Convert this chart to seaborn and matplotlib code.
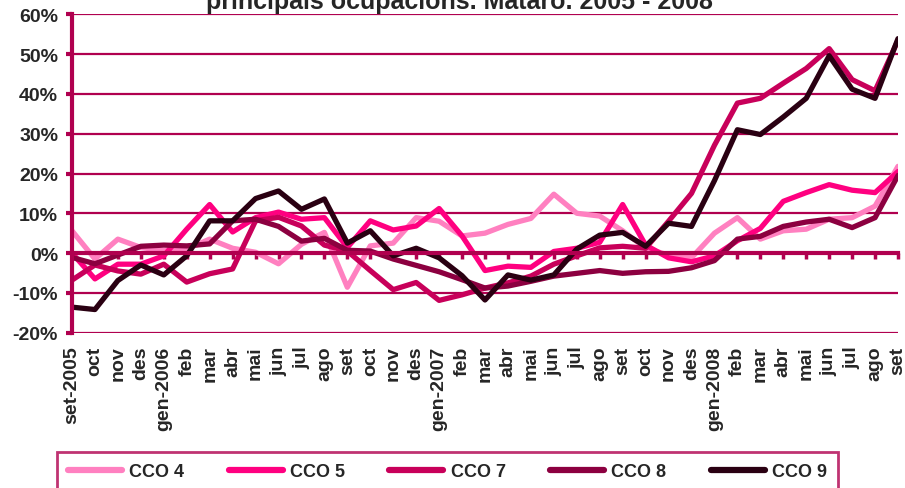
import matplotlib
matplotlib.use("Agg")
import matplotlib.pyplot as plt
import matplotlib.ticker as mticker
import pandas as pd
import seaborn as sns

# Monthly categories (set-2005 .. set-2008)
months = ["set-2005", "oct", "nov", "des", "gen-2006", "feb", "mar", "abr", "mai",
          "jun", "jul", "ago", "set", "oct", "nov", "des", "gen-2007", "feb", "mar",
          "abr", "mai", "jun", "jul", "ago", "set", "oct", "nov", "des", "gen-2008",
          "feb", "mar", "abr", "mai", "jun", "jul", "ago", "set"]

# Year-on-year variation (%)
cco4 = [5.6, -1.5, 3.5, 1.4, 0.6, 1.0, 3.5, 1.2, 0.2, -2.7, 2.2, 5.2, -8.6, 1.8, 2.5,
        8.9, 8.0, 4.3, 5.0, 7.2, 8.7, 14.8, 10.0, 9.3, 5.6, 1.2, -0.5, -1.2, 5.0, 8.9,
        3.5, 5.6, 6.0, 8.5, 8.9, 11.8, 21.8]
cco5 = [0.0, -6.5, -2.8, -2.8, -0.7, 6.0, 12.2, 5.3, 8.9, 10.3, 8.5, 8.9, 1.4, 8.1, 5.8,
        6.8, 11.2, 4.3, -4.4, -3.3, -3.6, 0.4, 1.2, 2.7, 12.2, 2.0, -1.2, -2.2, -0.7, 3.1,
        6.2, 13.0, 15.2, 17.2, 15.8, 15.2, 20.5]
cco7 = [-6.8, -3.0, -4.5, -5.3, -2.8, -7.3, -5.2, -4.0, 8.1, 9.0, 6.8, 2.0, 0.5, -4.4, -9.2,
        -7.4, -11.9, -10.5, -8.8, -7.5, -5.8, -2.8, -0.7, 1.3, 1.7, 1.2, 8.0, 15.0, 27.1,
        37.7, 38.9, 42.7, 46.4, 51.4, 43.6, 40.8, 53.5]
cco8 = [-1.1, -2.7, -0.5, 1.7, 2.0, 1.8, 2.3, 8.1, 8.5, 6.7, 3.0, 3.7, 0.7, 0.5, -1.5,
        -3.1, -4.7, -6.7, -8.8, -8.3, -7.1, -5.8, -5.1, -4.4, -5.1, -4.7, -4.6, -3.7, -1.9,
        3.5, 4.2, 6.7, 7.8, 8.5, 6.4, 8.9, 19.5]
cco9 = [-13.6, -14.2, -6.9, -3.0, -5.5, -0.7, 8.1, 8.1, 13.7, 15.6, 11.0, 13.6, 2.5, 5.6,
        -0.7, 1.2, -1.2, -5.7, -11.8, -5.5, -6.8, -5.5, 1.0, 4.5, 5.2, 1.7, 7.5, 6.7, 18.2,
        31.0, 29.8, 34.2, 38.9, 49.6, 41.2, 38.9, 53.9]

series_names = ["CCO 4", "CCO 5", "CCO 7", "CCO 8", "CCO 9"]
series_colors = ["#FF80C0", "#FF0080", "#C8005A", "#8C0040", "#2A0012"]
axis_color = "#B0004F"

sns.set_theme(style="white")
plt.rcParams["font.family"] = ["Liberation Sans", "DejaVu Sans"]
plt.rcParams["font.weight"] = "bold"
plt.rcParams["axes.unicode_minus"] = False

df = pd.DataFrame({"pos": range(len(months)), "month": months,
                   "CCO 4": cco4, "CCO 5": cco5, "CCO 7": cco7,
                   "CCO 8": cco8, "CCO 9": cco9})
long_df = df.melt(id_vars=["pos", "month"], value_vars=series_names,
                  var_name="serie", value_name="pct")

fig = plt.figure(figsize=(9.05, 4.89), dpi=100)
ax = fig.add_axes([72 / 905, 1 - 334 / 489, 826 / 905, 319 / 489])

sns.lineplot(data=long_df, x="pos", y="pct", hue="serie", hue_order=series_names,
             palette=dict(zip(series_names, series_colors)), linewidth=3.8,
             legend=False, ax=ax)

# y axis
ax.set_ylim(-20.1, 60.1)
ax.set_yticks(range(-20, 61, 10))
ax.yaxis.set_major_formatter(mticker.PercentFormatter(xmax=100, decimals=0))
ax.grid(axis="y", color=axis_color, linewidth=1.6)
ax.grid(axis="x", visible=False)
ax.tick_params(axis="y", left=True, length=4, width=3, color=axis_color,
               pad=6, labelsize=14)

# x axis crossing at 0%, labels at the bottom
ax.set_xlim(0, len(months) - 1)
ax.set_xticks(df["pos"])
ax.tick_params(axis="x", bottom=True, direction="out", length=4, width=2.5,
               color=axis_color, labelbottom=False)
for side in ["top", "right"]:
    ax.spines[side].set_visible(False)
ax.spines["left"].set_color(axis_color)
ax.spines["left"].set_linewidth(3)
ax.spines["bottom"].set_position(("data", 0))
ax.spines["bottom"].set_color(axis_color)
ax.spines["bottom"].set_linewidth(3)
ax.set_xlabel("")
ax.set_ylabel("")

sec = ax.secondary_xaxis("bottom")
sec.set_xticks(df["pos"], labels=months, rotation=90)
sec.tick_params(length=0, pad=9, labelsize=14)
sec.spines["bottom"].set_visible(False)

fig.text(459 / 905, 1 - 9.5 / 489, "principals ocupacions. Mataró. 2005 - 2008",
         ha="center", va="baseline", fontsize=18, fontweight="bold")

leg = fig.legend(ax.get_lines()[:len(series_names)], series_names,
                 loc="upper left", bbox_to_anchor=(57 / 905, 1 - 453 / 489, 781 / 905, 0),
                 mode="expand", ncol=5, frameon=True, fancybox=False,
                 edgecolor=axis_color, handlelength=3.0, handletextpad=0.4,
                 borderpad=0.6, fontsize=13, borderaxespad=0)
leg.get_frame().set_linewidth(2)
for line in leg.get_lines():
    line.set_linewidth(4.5)

fig.savefig("out.png", dpi=100)
